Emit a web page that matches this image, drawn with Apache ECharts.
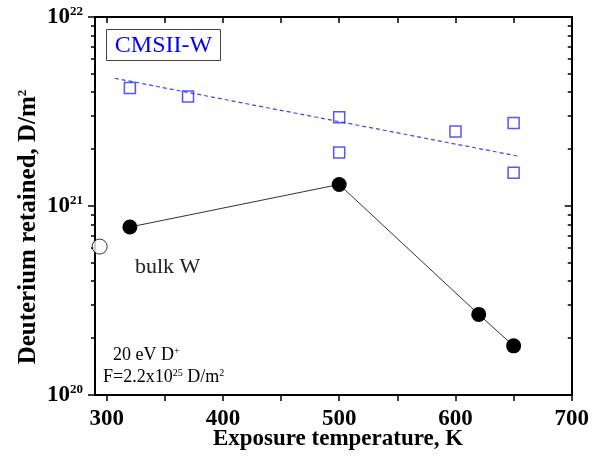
<!DOCTYPE html>
<html>
<head>
<meta charset="utf-8">
<script src="https://cdn.jsdelivr.net/npm/echarts@6/dist/echarts.min.js"></script>
<style>
  html, body { margin: 0; padding: 0; background: #fff; }
  #chart { width: 592px; height: 463px; }
</style>
</head>
<body>
<div id="chart"></div>
<script>
// tick values
var tempLabels = [300, 400, 500, 600, 700];
var tempTicks = [300, 350, 400, 450, 500, 550, 600, 650, 700];
var decades = [1e20, 1e21, 1e22];

// bulk W (filled circles, joined)
var bulkT = [320, 500, 620, 650];
var bulkD = [7.74e20, 1.30e21, 2.67e20, 1.82e20];
// open circle near room temperature
var refT = [294];
var refD = [6.1e20];
// CMSII-W (open squares)
var cmsT = [320, 370, 500, 500, 600, 650, 650];
var cmsD = [4.21e21, 3.80e21, 2.95e21, 1.92e21, 2.48e21, 2.75e21, 1.50e21];
// dashed fit through CMSII-W
var fitT = [307, 655];
var fitD = [4.74e21, 1.83e21];

var minorD = [];
for (var i = 0; i < decades.length - 1; i++) {
  for (var k = 2; k <= 9; k++) minorD.push(decades[i] * k);
}

function pairs(xs, ys) {
  return xs.map(function (x, i) { return [x, ys[i]]; });
}

var serif = '"Liberation Serif", "DejaVu Serif", serif';

// superscript style: small, pushed up with bottom padding
function sup(size, pad, color, bold) {
  return { fontFamily: serif, fontWeight: bold ? 'bold' : 'normal', fontSize: size,
           color: color, verticalAlign: 'top', padding: [0, 0, pad, 0] };
}

function yAx(pos, inside, vals, len, labels) {
  return {
    type: 'log', logBase: 10, min: 1e20, max: 1e22, position: pos,
    axisLine: { show: true, lineStyle: { color: '#000', width: 2 } },
    axisTick: { show: true, inside: inside, length: len, customValues: vals,
                lineStyle: { color: '#000', width: 1.5 } },
    axisLabel: labels ? {
      show: true, margin: 12, customValues: decades,
      formatter: function (v) { return '{b|10}{s|' + Math.round(Math.log10(v)) + '}'; },
      rich: {
        b: { fontFamily: serif, fontWeight: 'bold', fontSize: 23, color: '#000', verticalAlign: 'bottom' },
        s: sup(13, 8, '#000', true)
      }
    } : { show: false },
    splitLine: { show: false }, minorTick: { show: false }
  };
}

function xAx(pos, inside, labels) {
  return {
    type: 'value', min: 290, max: 700, position: pos,
    axisLine: { show: true, lineStyle: { color: '#000', width: 2 } },
    axisTick: { show: true, inside: inside, length: 6, customValues: tempTicks,
                lineStyle: { color: '#000', width: 1.5 } },
    axisLabel: labels ? {
      show: true, margin: 13, customValues: tempLabels,
      fontFamily: serif, fontWeight: 'bold', fontSize: 23, color: '#000'
    } : { show: false },
    splitLine: { show: false }
  };
}

var option = {
  backgroundColor: '#fff',
  animation: false,
  grid: { left: 95, right: 20, top: 17, bottom: 68 },
  xAxis: [ xAx('bottom', false, true), xAx('top', true, false) ],
  yAxis: [
    yAx('left', false, decades, 7, true),
    yAx('left', false, minorD, 4, false),
    yAx('right', true, decades, 7, false),
    yAx('right', true, minorD, 4, false)
  ],
  series: [
    {
      name: 'fit', type: 'line', data: pairs(fitT, fitD), symbol: 'none',
      lineStyle: { color: '#4040ff', width: 1.2, type: [4, 3] }, z: 2
    },
    {
      name: 'CMSII-W', type: 'scatter', data: pairs(cmsT, cmsD),
      symbol: 'rect', symbolSize: 11,
      itemStyle: { color: 'rgba(255,255,255,0)', borderColor: '#2b2bff', borderWidth: 1.5 }, z: 3
    },
    {
      name: 'bulk W', type: 'line', data: pairs(bulkT, bulkD),
      symbol: 'circle', symbolSize: 15,
      lineStyle: { color: '#333', width: 1 },
      itemStyle: { color: '#000' }, z: 4
    },
    {
      name: 'ref', type: 'scatter', data: pairs(refT, refD),
      symbol: 'circle', symbolSize: 15,
      itemStyle: { color: '#fff', borderColor: '#000', borderWidth: 1 }, z: 4
    }
  ],
  graphic: [
    { type: 'rect', shape: { x: 106.5, y: 29.5, width: 114, height: 31 },
      style: { fill: '#fff', stroke: '#444', lineWidth: 1 }, z: 10 },
    { type: 'text', x: 163.5, y: 45.5, z: 11,
      style: { text: 'CMSII-W', font: '24px ' + serif, fill: '#0000ff',
               align: 'center', verticalAlign: 'middle' } },
    { type: 'text', x: 135, y: 267, z: 11,
      style: { text: 'bulk W', font: '22px ' + serif, fill: '#222',
               align: 'left', verticalAlign: 'middle' } },
    { type: 'text', x: 113, y: 355, z: 11,
      style: { text: '{n|20 eV D}{s|+}', align: 'left', verticalAlign: 'middle',
               rich: { n: { fontFamily: serif, fontSize: 18, color: '#3a2a10', verticalAlign: 'bottom' },
                       s: sup(10, 5, '#3a2a10', false) } } },
    { type: 'text', x: 103, y: 377, z: 11,
      style: { text: '{n|F=2.2x10}{s|25}{n| D/m}{s|2}', align: 'left', verticalAlign: 'middle',
               rich: { n: { fontFamily: serif, fontSize: 18, color: '#333', verticalAlign: 'bottom' },
                       s: sup(10, 5, '#333', false) } } },
    { type: 'text', x: 338, y: 439, z: 11,
      style: { text: 'Exposure temperature, K', font: 'bold 23px ' + serif, fill: '#000',
               align: 'center', verticalAlign: 'middle' } },
    { type: 'text', x: 29, y: 227, rotation: Math.PI / 2, z: 11,
      style: { text: '{b|Deuterium retained, D/m}{s|2}', align: 'center', verticalAlign: 'middle',
               rich: { b: { fontFamily: serif, fontWeight: 'bold', fontSize: 25, color: '#000', verticalAlign: 'bottom' },
                       s: sup(13, 9, '#000', true) } } }
  ]
};

var myChart = echarts.init(document.getElementById('chart'));
myChart.setOption(option);
</script>
</body>
</html>
